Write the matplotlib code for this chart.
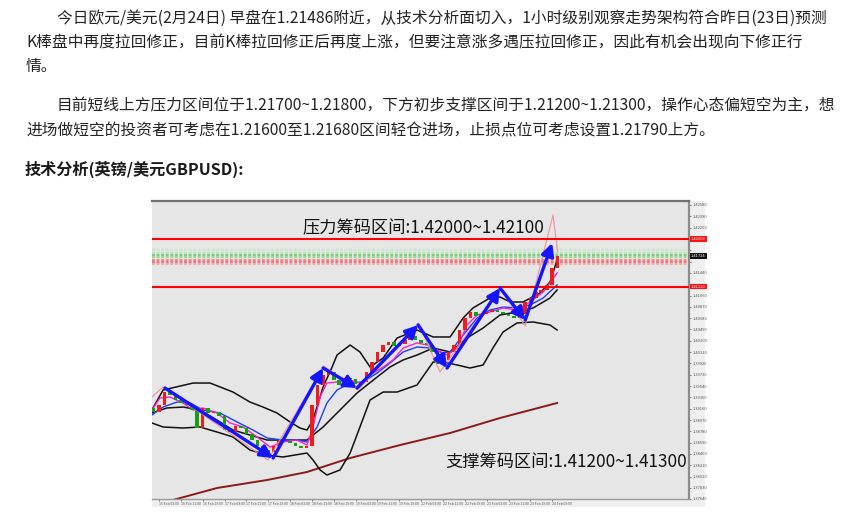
import numpy as np
import matplotlib.pyplot as plt

plt.rcParams['font.family'] = ['Noto Sans CJK SC', 'DejaVu Sans']

W, H = 855, 517

# ---- article text ----
para_lines = [
    "今日欧元/美元(2月24日) 早盘在1.21486附近，从技术分析面切入，1小时级别观察走势架构符合昨日(23日)预测",
    "K棒盘中再度拉回修正，目前K棒拉回修正后再度上涨，但要注意涨多遇压拉回修正，因此有机会出现向下修正行",
    "情。",
    "目前短线上方压力区间位于1.21700~1.21800，下方初步支撑区间于1.21200~1.21300，操作心态偏短空为主，想",
    "进场做短空的投资者可考虑在1.21600至1.21680区间轻仓进场，止损点位可考虑设置1.21790上方。",
]
heading = "技术分析(英镑/美元GBPUSD):"
resist_note = "压力筹码区间:1.42000~1.42100"
support_note = "支撑筹码区间:1.41200~1.41300"

# ---- chart data (hours counted from 16 Feb 03:00, GBPUSD H1) ----
bar_hours = np.arange(-2, 147, 2)
first_open = 1.39172
closes = np.array([
    1.39104, 1.39222, 1.39440, 1.39390, 1.39306, 1.39256, 1.39222, 1.39138, 1.38836, 1.39172,
    1.39088, 1.39104, 1.39037, 1.38802, 1.38769, 1.38869, 1.38836, 1.38735, 1.38634, 1.38534,
    1.38466, 1.38433, 1.38534, 1.38618, 1.38610, 1.38584, 1.38534, 1.38500, 1.38534, 1.39222,
    1.39558, 1.39726, 1.39776, 1.39642, 1.39558, 1.39675, 1.39660, 1.39575, 1.39608, 1.39776,
    1.39944, 1.40112, 1.40229, 1.40280, 1.40213, 1.40246, 1.40313, 1.40381, 1.40313, 1.40263,
    1.40229, 1.40112, 1.39910, 1.39978, 1.40112, 1.40229, 1.40481, 1.40683, 1.40783, 1.40716,
    1.40750, 1.40783, 1.40817, 1.40783, 1.40750, 1.40716, 1.40683, 1.40750, 1.40951, 1.41019,
    1.41119, 1.41153, 1.41237, 1.41522, 1.41724])

upper_h = [-2.6, 1.5, 12.5, 18.7, 27.1, 33.3, 38.1, 43.2, 48.0, 51.6, 54.2, 56.4, 60.1, 63.4,
           65.2, 70.0, 73.6, 77.3, 82.1, 87.2, 94.5, 100.4, 106.6, 111.4, 115.0, 121.2, 124.9,
           128.6, 133.3, 139.6, 143.2, 145.8]
upper_p = [1.39138, 1.39474, 1.39591, 1.39591, 1.39440, 1.39272, 1.39188, 1.39088, 1.38937,
           1.38836, 1.38802, 1.38970, 1.39524, 1.39860, 1.40061, 1.40229, 1.40112, 1.39860,
           1.40011, 1.40347, 1.40481, 1.40364, 1.40364, 1.40683, 1.40851, 1.41019, 1.41035,
           1.40951, 1.40951, 1.41102, 1.41287, 1.41657]

mid_h = [-2.6, 2.9, 8.8, 15.0, 21.2, 27.1, 33.3, 39.6, 45.4, 54.2, 60.1, 66.3, 72.5, 79.9,
         84.6, 89.4, 94.5, 100.4, 106.6, 112.8, 118.7, 124.9, 131.1, 137.0, 143.2, 145.8]
mid_p = [1.39088, 1.39172, 1.39188, 1.39138, 1.38970, 1.38802, 1.38718, 1.38634, 1.38634,
         1.38634, 1.38853, 1.39138, 1.39423, 1.39692, 1.39860, 1.39978, 1.40061, 1.40179,
         1.40112, 1.40347, 1.40515, 1.40733, 1.40783, 1.40851, 1.41019, 1.41153]

lower_h = [-2.6, 1.5, 8.8, 15.0, 21.2, 27.1, 33.3, 39.6, 45.4, 54.2, 56.4, 59.0, 61.5, 66.3,
           70.0, 73.6, 77.3, 82.1, 87.2, 94.5, 100.4, 104.0, 109.2, 113.9, 118.7, 122.3,
           126.0, 131.1, 137.0, 143.2, 145.8]
lower_p = [1.38920, 1.38853, 1.38836, 1.38853, 1.38769, 1.38685, 1.38466, 1.38382, 1.38349,
           1.38416, 1.38299, 1.38131, 1.38047, 1.38131, 1.38416, 1.38853, 1.39306, 1.39440,
           1.39440, 1.39558, 1.39944, 1.39944, 1.39894, 1.39843, 1.39894, 1.40179, 1.40448,
           1.40599, 1.40616, 1.40565, 1.40481]

blue_h = [-2.6, 1.5, 6.6, 11.4, 16.1, 22.3, 28.6, 34.4, 39.6, 45.4, 50.5, 54.2, 57.9, 61.5,
          65.2, 70.0, 74.7, 79.9, 84.6, 89.4, 94.5, 99.3, 104.0, 106.6, 111.4, 116.5, 121.2,
          126.0, 131.1, 135.9, 140.7, 145.8]
blue_p = [1.39054, 1.39188, 1.39272, 1.39256, 1.39138, 1.39088, 1.38937, 1.38802, 1.38668,
          1.38634, 1.38634, 1.38601, 1.38853, 1.39256, 1.39474, 1.39591, 1.39608, 1.39759,
          1.39927, 1.40112, 1.40196, 1.40179, 1.40095, 1.40112, 1.40397, 1.40683, 1.40817,
          1.40867, 1.40851, 1.40901, 1.41019, 1.41237]

pink_h = [-2.6, 0.4, 4.0, 8.8, 12.5, 16.1, 21.2, 26.0, 30.8, 35.9, 40.7, 45.4, 50.5, 54.2,
          56.4, 59.0, 61.5, 65.2, 70.0, 73.6, 77.3, 82.1, 85.7, 89.4, 94.5, 98.2, 101.8,
          105.5, 109.2, 112.8, 116.5, 121.2, 126.0, 131.1, 135.9, 140.7, 145.8]
pink_p = [1.39138, 1.39340, 1.39356, 1.39256, 1.39138, 1.39172, 1.39088, 1.38920, 1.38853,
          1.38685, 1.38517, 1.38601, 1.38634, 1.38550, 1.38853, 1.39356, 1.39591, 1.39608,
          1.39642, 1.39591, 1.39726, 1.39860, 1.39978, 1.40179, 1.40263, 1.40229, 1.40145,
          1.40061, 1.40179, 1.40565, 1.40733, 1.40783, 1.40851, 1.40817, 1.40951, 1.41119,
          1.41438]

trend_h = [0.4, 5.1, 21.2, 39.6, 54.2, 70.0, 88.3, 106.6, 124.9, 145.8]
trend_p = [1.37577, 1.37627, 1.37828, 1.37963, 1.38097, 1.38332, 1.38550, 1.38752, 1.39004,
           1.39256]

zigzag_h = [-2.6, 1.5, 39.9, 60.4, 72.9, 95.0, 102.9, 124.9, 134.1, 144.3, 146.0]
zigzag_p = [1.39356, 1.39524, 1.38299, 1.39877, 1.39474, 1.40599, 1.39776, 1.41186, 1.40548,
            1.42412, 1.41791]

wave_h = [2.2, 41.8, 60.1, 72.5, 94.9, 105.5, 124.9, 134.1, 144.0]
wave_p = [1.39507, 1.38332, 1.39843, 1.39507, 1.40565, 1.39843, 1.41186, 1.40649, 1.41942]

zone_lines = [1.42009, 1.41210]
last_price = 1.41724
profile_rows = [1.41858, 1.41819, 1.41781, 1.41740, 1.41702, 1.41663, 1.41623, 1.41584]
profile_cols = ['#d6edd6', '#c9e8c9', '#bce3bc', '#7ccf7c', '#98d898', '#f08a8a', '#ee7878',
                '#f3aaaa']

price_ticks = [1.42580, 1.42390, 1.42200, 1.42010, 1.41820, 1.41630, 1.41440, 1.41250,
               1.41060, 1.40870, 1.40680, 1.40490, 1.40300, 1.40110, 1.39920, 1.39730,
               1.39540, 1.39350, 1.39160, 1.38970, 1.38780, 1.38590, 1.38400, 1.38210,
               1.38020, 1.37830, 1.37645]
# labels hidden behind the coloured price boxes
hidden_ticks = [1.42010, 1.41820, 1.41630, 1.41250]
time_ticks = list(range(0, 145, 8))
time_labels = ['16 Feb 03:00', '16 Feb 11:00', '16 Feb 19:00', '17 Feb 03:00', '17 Feb 11:00',
               '17 Feb 19:00', '18 Feb 03:00', '18 Feb 11:00', '18 Feb 19:00', '19 Feb 03:00',
               '19 Feb 11:00', '19 Feb 19:00', '22 Feb 03:00', '22 Feb 11:00', '22 Feb 19:00',
               '23 Feb 03:00', '23 Feb 11:00', '23 Feb 19:00', '24 Feb 03:00']

fig = plt.figure(figsize=(W / 100, H / 100), dpi=100)
fig.patch.set_facecolor('white')

# text block
text_rows = [(57, 18), (26, 43), (26, 67), (57, 106), (26, 131)]
for line, (px, py) in zip(para_lines, text_rows):
    fig.text(px / W, 1 - py / H, line, fontsize=11.3, color='#222222', va='center', ha='left')
fig.text(25 / W, 1 - 169 / H, heading, fontsize=11.6, color='#1a1a1a', fontweight='bold',
         va='center', ha='left')

# chart picture frame
frame = fig.add_axes([152 / W, 1 - 507 / H, (705 - 152) / W, (507 - 201) / H])
frame.set_facecolor('#efefef')
frame.set_xticks([])
frame.set_yticks([])
for s in frame.spines.values():
    s.set_visible(False)

ax = fig.add_axes([152 / W, 1 - 499 / H, (689 - 152) / W, (499 - 201) / H])
ax.set_facecolor('#e6e6e6')
ax.set_xlim(-2.56, 194.1)
ax.set_ylim(1.37644, 1.42647)
ax.spines['left'].set_visible(False)
ax.spines['top'].set_color('#707070')
ax.spines['top'].set_linewidth(1.6)
ax.spines['right'].set_color('#8c8c8c')
ax.spines['right'].set_linewidth(1.6)
ax.spines['bottom'].set_color('#9a9a9a')
ax.spines['bottom'].set_linewidth(1.0)

ax.yaxis.tick_right()
ax.set_yticks(price_ticks)
ax.set_yticklabels(['' if v in hidden_ticks else '%.5f' % v for v in price_ticks])
ax.tick_params(axis='y', labelsize=2.9, labelcolor='#555555', length=1.5, width=0.5,
               pad=1, colors='#555555')
ax.set_xticks(time_ticks)
ax.set_xticklabels(time_labels)
ax.tick_params(axis='x', labelsize=2.5, labelcolor='#555555', length=1.5, width=0.5,
               pad=1, colors='#555555')
for lab in ax.get_xticklabels():
    lab.set_ha('left')

# volume-profile style dotted rows
for p, c in zip(profile_rows, profile_cols):
    ax.hlines(p, -2.56, 194.1, colors=c, linewidth=1.5, linestyles=(0, (1.4, 0.8)), zorder=1)

# indicators
ax.plot(trend_h, trend_p, color='#8b1a1a', lw=1.4, zorder=2)
ax.plot(upper_h, upper_p, color='#111111', lw=1.1, zorder=2)
ax.plot(mid_h, mid_p, color='#111111', lw=1.1, zorder=2)
ax.plot(lower_h, lower_p, color='#111111', lw=1.1, zorder=2)
ax.plot(blue_h, blue_p, color='#1f3cff', lw=1.0, zorder=3)
ax.plot(pink_h, pink_p, color='#ff1fd0', lw=1.0, zorder=3)

# candles
opens = np.concatenate([[first_open], closes[:-1]])
body = closes - opens
body = np.where(np.abs(body) < 0.00006, 0.00006, body)
cols = np.where(closes >= opens, '#f01c1c', '#14a014')
ax.bar(bar_hours, body, bottom=opens, width=1.3, color=cols, linewidth=0, zorder=4)

ax.plot(zigzag_h, zigzag_p, color='#f28a8a', lw=0.8, alpha=0.9, zorder=5)

# zone lines
for p in zone_lines:
    ax.axhline(p, color='#ff0000', lw=1.5, zorder=6)

# wave arrows
for i in range(len(wave_h) - 1):
    ax.annotate('', xy=(wave_h[i + 1], wave_p[i + 1]), xytext=(wave_h[i], wave_p[i]),
                arrowprops=dict(arrowstyle='-|>,head_length=0.75,head_width=0.38',
                                color='#1414ff', lw=2.4, mutation_scale=10,
                                shrinkA=0, shrinkB=0), zorder=7)

# price boxes on the right scale
ytr = ax.get_yaxis_transform()
for p in zone_lines:
    ax.text(1.004, p, '%.5f' % p, transform=ytr, fontsize=2.9, color='white', va='center',
            ha='left', bbox=dict(boxstyle='square,pad=0.2', fc='#ff1010', ec='none'),
            zorder=8, clip_on=False)
ax.text(1.004, last_price, '%.5f' % last_price, transform=ytr, fontsize=2.9, color='white',
        va='center', ha='left', bbox=dict(boxstyle='square,pad=0.2', fc='#111111', ec='none'),
        zorder=8, clip_on=False)

ax.text(52.4, 1.42194, resist_note, fontsize=12.4, color='#111111', va='center', ha='left',
        zorder=9)
ax.text(104.8, 1.38265, support_note, fontsize=12.4, color='#111111', va='center', ha='left',
        zorder=9)

fig.savefig('out.png', dpi=100)
